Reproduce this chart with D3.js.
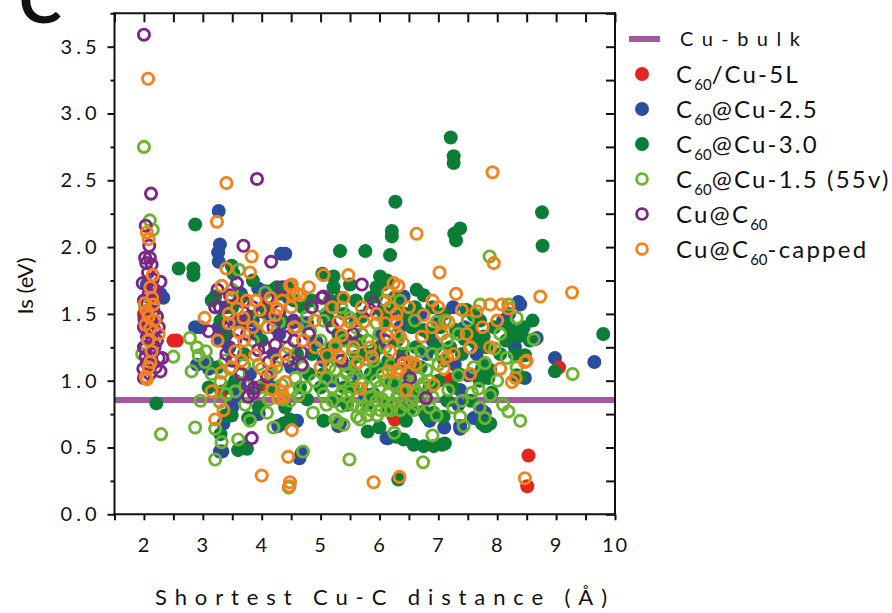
<!DOCTYPE html>
<html>
<head>
<meta charset="utf-8">
<script src="https://cdn.jsdelivr.net/npm/d3@7"></script>
<style>
  body { margin: 0; background: #fff; }
  svg { display: block; }
  text { font-family: Lato, "Open Sans", sans-serif; fill: #111; }
</style>
</head>
<body>
<svg id="chart" width="892" height="613"></svg>
<script>
// Shortest Cu–C distance (Å) vs. Is (eV), one [distance, Is] pair per point.
const cuBulk = 0.855;

const c60Cu5L = [
  [2.50,1.30],[2.56,1.30],[2.00,1.50],[2.03,1.44],[3.32,0.92],[4.03,0.97],
  [6.26,0.71],[7.20,1.01],[9.05,1.10],[8.53,0.44],[8.51,0.21]
];

const c60Cu25 = [
  [3.27,2.27],[3.29,2.02],[3.26,1.96],[3.27,1.89],[4.33,1.95],[4.40,1.95],[3.94,1.69],[4.06,1.67],
  [2.28,1.65],[2.05,1.72],[2.33,1.62],[2.87,1.40],[2.96,1.40],[3.27,1.40],[2.90,1.12],[3.07,1.14],
  [3.10,1.09],[3.58,0.89],[3.63,0.96],[3.35,0.68],[4.28,0.66],[3.33,0.47],[3.29,0.47],[4.64,0.42],
  [4.68,0.46],[4.54,1.45],[4.71,1.43],[4.34,1.43],[4.77,1.43],[4.88,1.28],[4.93,1.29],[3.74,1.45],
  [5.30,0.66],[5.33,0.68],[6.12,0.57],[6.15,0.57],[6.24,0.73],[6.41,1.63],[6.58,1.45],[6.46,1.43],
  [8.36,1.59],[8.39,1.57],[8.42,1.38],[8.64,1.31],[8.67,1.32],[8.98,1.17],[9.65,1.14],[7.34,0.82],
  [7.37,0.64],[7.37,0.66],[7.74,0.78],[7.79,0.76],[8.47,1.02],[7.37,0.93],[7.51,1.04],[7.28,1.12],
  [5.05,1.15],[5.45,1.30],[5.90,1.20],[6.60,1.10],[6.90,1.30],[7.45,1.40],[5.60,1.05],[6.30,0.95],
  [6.80,1.20],[5.20,1.00],[4.20,1.20],[3.90,1.35],[4.50,1.10],[7.65,1.20],[8.10,1.45],[6.00,1.35],
  [5.75,0.90],[3.45,1.25],[3.80,1.05],[3.40,1.55],[3.55,1.45],[3.85,1.45],[4.10,1.50],[4.45,1.62],
  [3.30,1.30],[3.65,1.65],[4.30,1.35],[3.50,0.80],[3.95,0.75],[4.60,0.70],[6.20,1.50],[6.70,1.50],
  [7.00,1.45],[7.25,1.55],[6.35,1.40],[7.60,0.72],[8.20,1.50],[8.30,1.25],[5.10,1.50],[5.60,1.45],
  [6.85,0.70],[7.10,0.65]
];

const c60Cu30 = [
  [7.21,2.82],[7.26,2.68],[7.26,2.63],[6.27,2.34],[8.76,2.26],[6.21,2.12],[6.21,2.08],[7.27,2.10],
  [7.37,2.14],[7.30,2.05],[8.77,2.01],[5.33,1.97],[5.76,1.97],[6.18,1.94],[2.87,2.17],[2.59,1.84],
  [2.84,1.84],[2.84,1.79],[3.49,1.86],[3.52,1.80],[4.26,1.70],[4.31,1.65],[4.43,1.70],[4.20,1.68],
  [5.03,1.80],[5.22,1.78],[5.22,1.70],[6.01,1.78],[6.13,1.75],[5.95,1.70],[6.06,1.72],[6.63,1.68],
  [6.75,1.64],[5.16,1.60],[5.22,1.55],[5.95,1.63],[3.21,1.63],[3.80,1.48],[9.80,1.35],[8.98,1.07],
  [2.21,0.83],[3.38,0.74],[3.49,0.74],[3.77,0.72],[3.60,0.48],[3.75,0.49],[3.66,0.50],[4.37,0.68],
  [4.48,0.71],[4.77,0.86],[6.32,0.26],[6.29,0.58],[6.41,0.56],[6.58,0.52],[6.75,0.51],[6.92,0.51],
  [7.06,0.52],[7.11,0.53],[5.45,0.82],[5.79,0.82],[6.12,0.81],[6.35,0.79],[6.52,0.79],[6.75,0.77],
  [6.92,0.76],[7.09,0.73],[6.80,0.73],[7.79,0.66],[7.74,0.68],[7.88,0.68],[7.82,0.66],[7.68,1.32],
  [8.36,1.33],[8.47,1.19],[8.33,1.04],[8.39,1.03],[7.85,1.02],[7.74,1.09],[7.62,1.29],[7.45,1.31],
  [7.91,0.91],[7.82,1.25],[7.79,1.13],[7.88,1.08],[7.71,1.45],[7.60,1.49],[7.09,1.50],[7.48,1.53],
  [7.03,1.40],[7.77,1.33],[8.23,1.38],[8.20,1.42],[5.10,1.20],[5.30,1.35],[5.50,1.10],[5.65,1.30],
  [5.85,1.05],[6.00,1.25],[6.20,1.00],[6.40,1.20],[6.55,1.40],[6.70,1.10],[6.85,1.35],[7.00,1.00],
  [7.20,1.25],[7.35,1.05],[5.55,0.95],[5.90,0.90],[6.10,1.45],[6.45,0.95],[6.65,0.90],[4.60,1.20],
  [4.80,1.05],[4.00,1.30],[3.70,1.20],[3.40,1.35],[3.90,0.95],[4.40,0.80],[5.00,0.95],[5.25,0.85],
  [6.90,1.55],[6.30,1.55],[7.15,0.85],[7.55,0.85],[8.05,1.20],[8.55,1.30],[8.60,1.45],[3.25,1.10],
  [3.55,1.00],[3.15,1.60],[3.65,1.62],[4.70,1.55],[5.60,1.60],[5.40,1.50],[6.60,1.55],[7.30,1.38],
  [5.15,1.45],[5.35,1.62],[5.50,1.72],[5.70,1.48],[5.85,1.62],[6.05,1.52],[6.25,1.62],[6.45,1.50],
  [6.75,1.38],[6.95,1.25],[7.10,1.15],[7.25,0.95],[7.40,1.20],[7.55,1.38],[7.70,1.00],[7.95,1.40],
  [8.15,1.30],[8.30,1.20],[8.45,1.40],[5.05,1.05],[5.20,1.25],[5.40,0.95],[5.60,1.18],[5.75,1.20],
  [5.95,1.10],[6.15,1.15],[6.30,1.30],[6.50,1.05],[6.62,1.25],[6.85,0.95],[3.30,1.45],[3.50,1.55],
  [3.85,1.75],[4.05,1.55],[4.35,1.45],[4.55,1.60],[4.85,1.60],[3.45,0.95],[3.95,0.80],[4.20,0.95],
  [4.65,0.95],[3.10,0.95],[3.30,0.60],[4.85,1.20],[5.05,0.70],[5.80,0.62],[6.00,0.65],[6.45,0.70]
];

const c60Cu15 = [
  [2.00,2.75],[2.10,2.20],[2.15,2.13],[1.97,1.20],[2.02,1.55],[3.61,1.83],[4.06,1.66],[4.29,1.44],
  [2.78,1.32],[2.50,1.18],[2.90,1.25],[2.93,1.19],[3.04,1.14],[2.81,1.07],[2.29,0.60],[2.96,0.85],
  [2.87,0.65],[3.29,0.84],[3.21,0.64],[3.32,0.54],[3.60,0.56],[3.21,0.41],[4.09,0.76],[3.72,0.82],
  [3.72,0.96],[4.12,0.86],[4.34,0.97],[4.37,0.86],[3.38,1.15],[3.46,1.09],[3.63,1.06],[4.87,0.76],
  [4.46,0.20],[4.70,0.47],[5.49,0.41],[6.74,0.39],[6.25,0.61],[6.90,0.59],[5.28,0.69],[5.39,0.67],
  [5.62,0.73],[5.79,0.74],[5.96,0.74],[6.01,0.78],[5.36,0.81],[5.62,0.81],[6.12,0.78],[6.35,0.78],
  [6.58,0.78],[6.97,0.74],[4.51,0.92],[4.62,0.89],[4.57,1.02],[4.48,0.85],[7.87,1.93],[8.19,1.57],
  [8.33,1.47],[8.05,1.35],[8.62,1.31],[7.34,1.35],[4.99,1.56],[4.77,1.48],[4.82,1.37],[5.50,1.47],
  [5.95,1.43],[6.97,1.44],[7.11,1.45],[9.28,1.05],[8.39,0.70],[8.10,0.82],[8.19,0.77],[7.79,0.72],
  [7.37,0.73],[7.43,0.66],[7.57,0.91],[7.68,0.94],[7.88,0.89],[7.17,0.93],[7.34,1.04],[8.33,1.10],
  [8.16,1.17],[7.79,1.13],[7.96,1.24],[7.71,1.57],[5.25,0.71],[5.67,0.71],[5.05,0.90],[5.20,0.95],
  [5.35,1.00],[5.50,0.92],[5.70,0.98],[5.85,0.88],[6.00,0.95],[6.15,0.90],[6.30,0.88],[6.45,1.00],
  [6.60,0.92],[6.75,0.98],[6.90,0.88],[5.15,1.10],[5.30,1.15],[5.45,1.05],[5.60,1.12],[5.75,1.08],
  [5.90,1.15],[6.05,1.05],[6.20,1.12],[6.35,1.05],[6.50,1.10],[6.65,1.02],[6.80,1.08],[7.00,1.12],
  [5.25,1.25],[5.55,1.22],[5.80,1.30],[6.10,1.25],[6.40,1.28],[6.70,1.22],[7.05,1.20],[5.00,1.30],
  [4.70,1.10],[4.90,1.00],[5.10,0.82],[5.45,0.88],[5.95,0.85],[6.25,0.83],[6.55,0.85],[6.85,0.80],
  [4.15,1.05],[3.95,1.12],[3.30,0.99],[3.55,0.92],[3.85,1.30],[4.45,1.25],[7.25,0.80],[7.60,1.10],
  [7.50,1.45],[8.00,1.00],[6.10,1.60],[5.35,1.55],[6.60,1.45],[3.05,1.22],[3.50,1.68],
  [5.10,1.02],[5.25,1.08],[5.40,1.12],[5.55,1.02],[5.65,0.88],[5.80,0.95],[5.95,1.00],[6.10,1.00],
  [6.25,0.98],[6.40,0.92],[6.55,0.98],[6.70,0.95],[6.85,1.00],[5.20,0.85],[5.35,0.90],[5.55,0.82],
  [5.70,0.80],[5.85,0.78],[6.05,0.86],[6.20,0.78],[6.45,0.82],[6.65,0.82],[6.80,0.86],[5.40,1.30],
  [5.70,1.35],[6.00,1.35],[6.30,1.35],[6.55,1.20],[6.90,1.20],[7.15,1.30],[7.40,0.85],[7.55,1.25],
  [7.70,0.80],[3.15,1.05],[3.40,0.90],[3.70,1.12],[4.00,0.95],[4.25,1.10],[4.55,1.15],[4.75,0.95],
  [3.95,1.45],[4.60,1.40],[5.05,1.45],[5.60,1.40],[6.35,1.60],[3.80,0.70],[4.20,0.65]
];

const cuAtC60 = [
  [2.00,3.59],[2.12,2.40],[2.03,2.16],[2.09,2.01],[2.04,1.88],[2.13,1.87],[1.98,1.73],[2.28,1.74],
  [2.15,1.76],[2.07,1.81],[2.08,1.65],[2.20,1.63],[2.00,1.60],[2.15,1.58],[2.05,1.52],[2.12,1.45],
  [2.22,1.48],[2.00,1.40],[2.18,1.38],[2.05,1.33],[2.22,1.30],[2.00,1.25],[2.12,1.20],[2.25,1.17],
  [2.05,1.13],[1.99,1.09],[2.28,1.07],[2.10,1.05],[2.02,1.24],[2.31,1.17],[2.10,1.70],[2.02,1.92],
  [2.16,1.52],[2.08,1.36],[2.20,1.10],[2.00,1.02],[2.18,1.25],[2.25,1.40],[2.03,1.18],[2.14,1.30],
  [2.05,1.58],[2.18,1.68],[2.10,1.92],[2.01,1.46],
  [3.92,2.51],[3.69,2.01],[4.16,1.89],[3.58,1.73],[3.46,1.64],[3.21,1.55],[3.29,1.55],[3.69,1.59],
  [4.00,1.52],[5.02,1.62],[5.70,1.72],[5.05,1.63],[5.90,1.58],[5.84,1.53],[4.54,1.44],[4.40,1.33],
  [3.77,0.88],[3.86,0.94],[3.86,0.91],[3.77,0.97],[4.12,1.14],[3.94,1.23],[3.83,0.57],[6.79,0.87],
  [6.52,1.02],[3.10,1.37],[4.23,1.27],[4.09,1.03],[3.74,1.45],[4.68,1.21],[4.68,1.12],[5.36,1.15],
  [6.38,1.15],[4.55,1.30],[3.40,1.20],[4.30,1.52],[5.20,1.40],[3.55,1.30],[3.35,1.40],[3.60,1.45],
  [3.85,1.55],[4.10,1.62],[4.35,1.70],[3.50,1.15],[3.75,1.35],[4.05,1.25],[4.45,1.15],[4.80,1.35],
  [3.25,1.68],[4.20,1.40],[3.65,1.05],[4.85,1.55],[5.55,1.35],[6.10,1.30]
];

const cuAtC60Capped = [
  [2.07,3.26],[2.05,2.11],[2.08,2.06],[2.15,1.79],[2.11,1.70],[2.02,1.58],[2.16,1.57],[2.08,1.48],
  [2.11,1.39],[2.25,1.35],[2.05,1.01],[2.03,1.03],[2.11,1.14],[2.13,1.22],[2.08,1.10],[2.05,1.52],
  [2.18,1.45],[2.07,1.30],[2.14,1.62],[2.03,1.42],
  [3.40,2.48],[3.24,2.19],[3.83,1.93],[3.40,1.84],[3.80,1.81],[3.32,1.71],[4.48,1.71],[4.60,1.65],
  [4.51,1.72],[4.54,1.64],[4.65,1.64],[5.05,1.79],[5.47,1.79],[6.24,1.73],[6.32,1.71],[6.15,1.66],
  [6.63,2.10],[7.02,1.81],[7.92,2.56],[7.94,1.88],[8.73,1.63],[9.27,1.66],[5.39,1.62],[6.18,1.55],
  [6.29,1.50],[6.75,1.49],[5.30,1.44],[5.50,1.44],[5.73,1.44],[6.10,1.43],[6.29,1.44],[6.89,1.40],
  [7.06,1.35],[5.36,1.34],[6.12,1.34],[6.35,1.33],[6.72,1.33],[7.40,1.53],[7.65,1.52],[7.88,1.57],
  [8.08,1.57],[8.19,1.54],[7.17,1.44],[7.48,1.35],[3.97,1.53],[4.26,1.54],[4.23,1.49],[4.09,1.40],
  [3.44,1.50],[3.58,1.54],[3.69,1.47],[3.62,1.36],[3.03,1.47],[3.44,1.43],[3.32,1.06],[3.49,1.10],
  [3.66,1.15],[3.89,1.19],[4.00,1.09],[4.17,1.07],[3.15,0.92],[3.21,0.71],[3.35,0.78],[4.17,0.93],
  [4.34,0.92],[4.28,0.87],[4.00,0.29],[4.45,0.43],[4.51,0.63],[4.48,0.24],[4.47,0.21],[5.90,0.24],
  [6.34,0.28],[5.67,0.94],[6.46,0.93],[6.92,0.97],[4.40,0.99],[4.37,0.88],[8.47,0.27],[8.50,1.15],
  [8.47,1.14],[8.25,0.99],[8.31,1.02],[8.05,1.09],[7.88,1.25],[7.54,1.25],[7.54,1.05],[7.26,1.20],
  [7.15,1.18],[6.61,1.12],[7.09,1.09],[6.29,1.07],[6.35,1.09],[6.41,1.13],[6.52,1.14],[6.18,1.22],
  [4.91,1.25],[5.11,1.19],[5.25,1.27],[5.33,1.18],[5.56,1.25],[5.84,1.25],[5.64,1.14],[5.87,1.18],
  [6.15,1.07],[3.25,1.30],[3.70,1.30],[4.40,1.20],[4.70,1.30],[4.90,1.45],[3.55,1.22],[4.25,1.15],
  [4.50,1.55],[5.70,1.55],[6.90,1.60],[7.30,1.65],[5.00,1.10],[3.90,1.60],[3.75,1.60],[4.15,1.62],
  [4.35,1.60],[3.50,1.62],[4.80,1.70],[5.20,1.55],[5.95,1.50],[6.50,1.55],[7.00,1.55],[7.75,1.40],
  [8.00,1.45],[3.85,1.40],[4.55,1.40]
];

const xTickLabels = [2, 3, 4, 5, 6, 7, 8, 9, 10];
const yTickLabels = [0, 0.5, 1.0, 1.5, 2.0, 2.5, 3.0, 3.5];

// Series in drawing order (later ones sit on top).
const series = [
  { name: "c60Cu25",   data: c60Cu25,       color: "#2a4c9c", filled: true  },
  { name: "c60Cu5L",   data: c60Cu5L,       color: "#e3241f", filled: true  },
  { name: "c60Cu30",   data: c60Cu30,       color: "#0b7d36", filled: true  },
  { name: "c60Cu15",   data: c60Cu15,       color: "#6cb42f", filled: false },
  { name: "cuAtC60",   data: cuAtC60,       color: "#7b2787", filled: false },
  { name: "capped",    data: cuAtC60Capped, color: "#f0831e", filled: false }
];

const legendItems = [
  { type: "line", color: "#a4589f", parts: [["Cu-bulk"]], spaced: 122 },
  { type: "dot",  color: "#e3241f", filled: true,  parts: [["C"], ["60", 1], ["/Cu-5L"]] },
  { type: "dot",  color: "#2a4c9c", filled: true,  parts: [["C"], ["60", 1], ["@Cu-2.5"]] },
  { type: "dot",  color: "#0b7d36", filled: true,  parts: [["C"], ["60", 1], ["@Cu-3.0"]] },
  { type: "dot",  color: "#6cb42f", filled: false, parts: [["C"], ["60", 1], ["@Cu-1.5 (55v)"]] },
  { type: "dot",  color: "#7b2787", filled: false, parts: [["Cu@C"], ["60", 1]] },
  { type: "dot",  color: "#f0831e", filled: false, parts: [["Cu@C"], ["60", 1], ["-capped"]] }
];

const svg = d3.select("#chart");
const L = 114.5, R = 615, T = 13.3, B = 514.3;

const x = d3.scaleLinear().domain([1.5, 10]).range([L, R]);
const y = d3.scaleLinear().domain([0, 3.75]).range([B, T]);

// Cu-bulk reference line (under the points)
svg.append("line")
  .attr("x1", L).attr("x2", R)
  .attr("y1", y(cuBulk)).attr("y2", y(cuBulk))
  .attr("stroke", "#a4589f").attr("stroke-width", 6);

// Points
series.forEach(s => {
  svg.append("g").attr("class", s.name)
    .selectAll("circle").data(s.data).join("circle")
    .attr("cx", d => x(d[0]))
    .attr("cy", d => y(d[1]))
    .attr("r", s.filled ? 7 : 5.6)
    .attr("fill", s.filled ? s.color : "none")
    .attr("stroke", s.filled ? "none" : s.color)
    .attr("stroke-width", s.filled ? 0 : 2.9);
});

// Axes
const halfSteps = d3.range(1.5, 10.001, 0.5);
const quarterSteps = d3.range(0, 3.751, 0.25);

const xAxis = svg.append("g").attr("transform", `translate(0,${B})`)
  .call(d3.axisBottom(x).tickValues(halfSteps).tickSize(6)
    .tickFormat(d => xTickLabels.includes(d) ? String(d) : ""));
xAxis.selectAll("text").attr("y", 24).attr("font-size", 20).style("letter-spacing", "2px");

const yAxis = svg.append("g").attr("transform", `translate(${L},0)`)
  .call(d3.axisLeft(y).tickValues(quarterSteps).tickSize(7)
    .tickFormat(d => yTickLabels.some(v => Math.abs(v - d) < 1e-9) ? d3.format(".1f")(d) : ""));
yAxis.selectAll(".tick line").attr("x2", d => (Math.round(d * 4) % 2 === 0) ? -7 : -4);
yAxis.selectAll("text").attr("x", -14).attr("font-size", 20).style("letter-spacing", "4px");

const topAxis = svg.append("g").attr("transform", `translate(0,${T})`)
  .call(d3.axisTop(x).tickValues(halfSteps).tickSize(-9).tickFormat(""));
const rightAxis = svg.append("g").attr("transform", `translate(${R},0)`)
  .call(d3.axisRight(y).tickValues(quarterSteps).tickSize(-9).tickFormat(""));

[xAxis, yAxis, topAxis, rightAxis].forEach(g => {
  g.select(".domain").attr("stroke", "#111").attr("stroke-width", 2).attr("d",
    g === xAxis || g === topAxis ? `M${L - 1},0H${R + 1}` : `M0,${T - 1}V${B + 1}`);
  g.selectAll(".tick line").attr("stroke", "#111").attr("stroke-width", 2);
  g.selectAll("text").attr("fill", "#111").attr("font-family", "Lato, 'Open Sans', sans-serif");
});

// Axis titles
svg.append("text")
  .attr("x", 155).attr("y", 605)
  .attr("font-size", 22)
  .attr("textLength", 452).attr("lengthAdjust", "spacing")
  .text("Shortest Cu-C distance (Å)");

svg.append("text")
  .attr("transform", "translate(33,286) rotate(-90)")
  .attr("text-anchor", "middle")
  .attr("font-size", 22)
  .text("Is (eV)");

// Panel letter
svg.append("text")
  .attr("x", 19).attr("y", 23)
  .attr("font-family", "'Liberation Sans', Arial, sans-serif")
  .attr("font-weight", "bold").attr("font-size", 64)
  .text("C");

// Legend
const legend = svg.append("g");
legendItems.forEach((item, i) => {
  const cy = 39 + i * 35;
  if (item.type === "line") {
    legend.append("line").attr("x1", 629).attr("x2", 660).attr("y1", cy).attr("y2", cy)
      .attr("stroke", item.color).attr("stroke-width", 6);
  } else {
    legend.append("circle").attr("cx", 642).attr("cy", cy)
      .attr("r", item.filled ? 7 : 5.4)
      .attr("fill", item.filled ? item.color : "none")
      .attr("stroke", item.filled ? "none" : item.color)
      .attr("stroke-width", item.filled ? 0 : 2.9);
  }
  const t = legend.append("text").attr("x", 676).attr("y", cy + 9).attr("font-size", 24);
  if (item.spaced) t.attr("textLength", item.spaced).attr("lengthAdjust", "spacing").attr("x", 680).attr("y", cy + 7).attr("font-size", 20);
  let shift = 0;
  item.parts.forEach(([str, sub]) => {
    const dy = sub ? 7 - shift : (shift ? -shift : 0);
    shift = sub ? 7 : 0;
    t.append("tspan").attr("dy", dy).attr("font-size", sub ? 15 : null)
      .style("letter-spacing", sub ? "0px" : "2.2px").text(str);
  });
});
</script>
</body>
</html>
